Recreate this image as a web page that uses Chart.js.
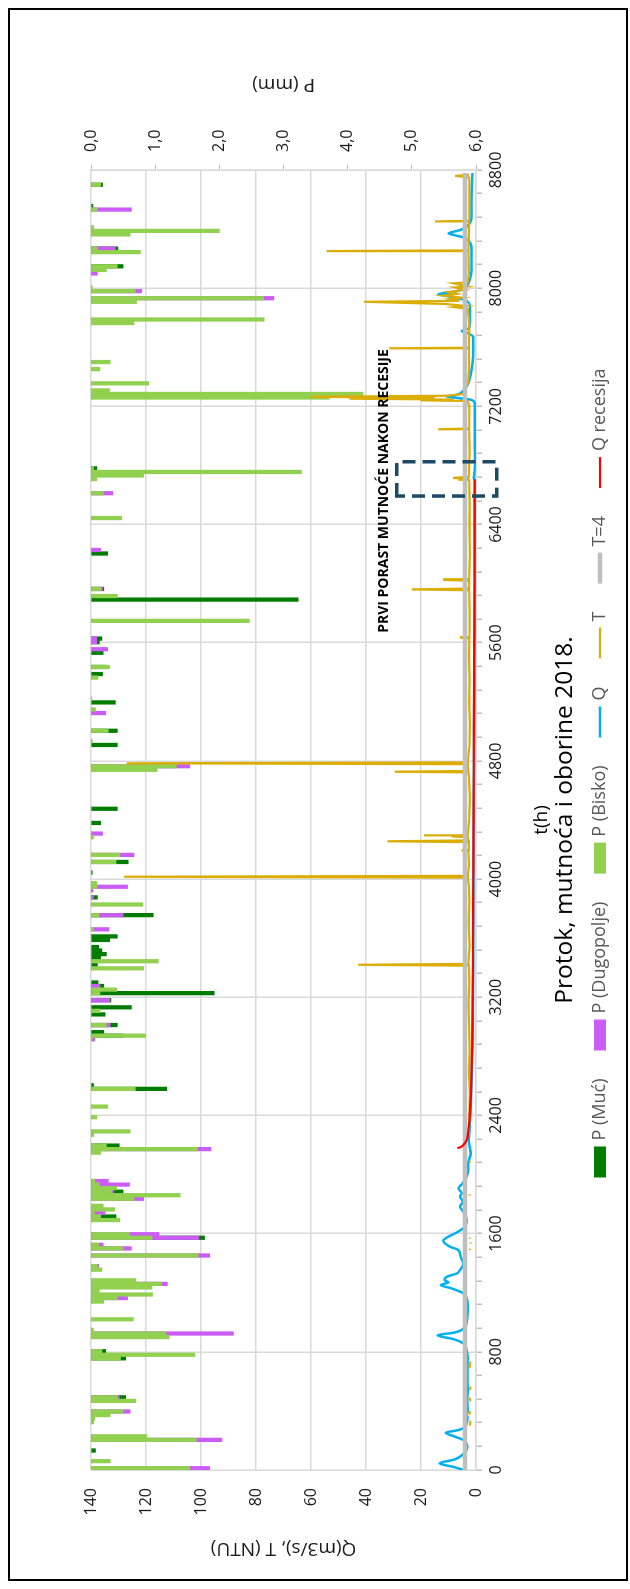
<!DOCTYPE html>
<html>
<head>
<meta charset="utf-8">
<script src="https://cdn.jsdelivr.net/npm/chart.js@4.4.1/dist/chart.umd.min.js"></script>
<style>
  html, body { margin: 0; padding: 0; background: #fff; }
  body { width: 630px; height: 1589px; overflow: hidden; position: relative; }
  #wrap { position: absolute; left: 0; top: 0; width: 1589px; height: 630px;
          transform-origin: 0 0; transform: translate(0, 1589px) rotate(-90deg); }
</style>
</head>
<body>
<div id="wrap"><canvas id="myChart" width="1589" height="630"></canvas></div>
<script>
// precipitation, one bar per day (hour of the day's middle)
const rainHours = [12,60,132,204,228,324,348,372,396,468,492,756,780,804,900,924,948,1020,1140,1164,1188,1212,1236,1260,1284,1356,1380,
  1452,1500,1524,1572,1596,1692,1716,1740,1764,1788,1836,1860,1884,1908,1932,1956,2148,2172,2196,2268,2292,2388,2460,2580,2604,
  2916,2940,2964,3012,3084,3108,3132,3180,3228,3252,3276,3300,3396,3420,3444,3468,3492,3516,3540,3588,3612,3660,3756,3828,3876,3924,3948,3972,4044,4116,4164,4284,4308,4380,
  4476,4740,4764,4908,4932,5004,5124,5148,5196,5220,5364,5388,5436,5532,5556,5604,5628,5748,5892,5916,
  5964,6204,6228,6444,6612,6708,6732,6756,6780,7260,7284,7308,7356,
  7452,7500,7764,7788,7908,7932,7980,8004,8100,8124,8148,8244,8268,8364,8388,8412,8532,8556,8700];
const pMuc = [0,0,0.07,0,0,0,0,0,0,0,0.54,0.54,0,0.23,0,0,0,0,0,0,0,0,0,0,0,0,0,
  0,0,0,1.77,0,0,0.39,0,0,0,0,0,0.50,0,0,0,0,0,0.44,0,0,0,0,1.18,0.04,
  0,0.50,0.20,0.41,0.22,0,0.63,0.31,1.92,0,0.20,0.11,0,0.10,0,0.15,0.24,0.17,0.12,0.29,0.41,0,0.97,0,0.10,0,0,0,0.02,0.58,0,0,0,0.15,
  0.41,0,0,0.41,0,0.41,0,0,0.38,0,0,0.18,0.23,0.19,0,0.13,0.17,0,3.23,0,
  0.20,0.26,0,0,0,0,0,0,0.09,0,0,0,0,
  0,0,0,0,0,0,0,0,0,0,0.50,0,0.42,0,0,0,0,0.03,0.18];
const pDugopolje = [1.85,0,0,2.04,0,0,0,0,0.61,0.08,0.44,0,0,0.14,0,2.22,0,0,0,0.57,0,0,0,1.19,0,0,0.12,
  1.85,0.63,0.19,1.68,1.06,0,0,0.22,0,0,0.82,0,0.35,0,0.60,0.27,0,1.87,0,0,0,0,0,0,0,
  0.06,0,0,0.30,0,0,0,0.29,0,0,0.14,0,0,0,0,0,0,0,0,0,0,0.28,0.50,0,0.04,0.03,0.57,0,0,0,0.67,0,0.18,0,
  0,0,1.54,0,0,0,0.23,0,0,0,0,0,0,0,0.26,0.09,0.09,0,0,0,
  0.18,0,0.15,0,0.34,0,0,0,0,0,0,0,0,
  0,0,0,0,0,2.85,0.79,0,0.10,0,0,0,0.38,0,0,0,0.63,0,0];
const pBisko = [1.54,0.30,0,1.64,0.87,0.04,0.06,0.30,0.50,0.70,0.41,0.46,1.62,0.17,1.22,1.17,0.04,0.66,0.20,0.41,0.96,0.13,0.95,1.10,0.70,0.17,0.10,
  1.67,0.50,0.12,0.95,0.60,0.45,0.15,0.05,0.37,0.19,0.67,1.39,0.32,0.40,0.13,0.06,0.15,1.66,0.24,0.04,0.61,0.09,0.26,0.69,0,
  0.02,0.85,0,0.24,0,0.14,0,0,0.14,0.40,0,0,0.82,0,1.05,0,0,0,0,0,0,0.04,0.12,0.81,0,0,0.09,0.09,0,0.39,0.45,0.04,0,0,
  0,1.03,1.33,0,0.02,0.27,0,0.07,0,0.01,0.11,0,0.29,0,0,0,0,2.47,0,0.41,
  0.15,0,0,0.48,0.19,0.09,0.82,3.28,0.04,3.71,4.24,0.29,0.90,
  0.14,0.30,0.67,2.70,0.71,2.69,0.69,0.02,0,0.24,0.41,0.77,0.10,0.61,2.0,0.04,0.10,0,0.15];

// flow Q (m3/s)
const qHours = [0,20,45,70,90,135,158,203,228,253,268,282,316,360,377,400,470,550,650,760,820,857,885,912,930,948,993,1083,1150,1196,1230,1252,1270,1286,1309,1330,1354,1399,1444,1489,1512,1553,1580,1614,1648,1693,1749,1783,1817,1851,1873,1907,1941,1986,2032,2076,2144,2178,2230,2300,2420,2640,2980,3500,4000,4500,5000,5500,6000,6400,6700,6713,6770,6860,7000,7220,7243,7255,7266,7278,7288,7334,7379,7446,7550,7670,7695,7710,7726,7760,7873,7920,7945,7960,7975,8000,8032,8145,8257,8340,8360,8371,8393,8416,8484,8596,8780];
const qValues = [4.6,8,13.3,8,5.8,3.4,3.2,4.6,8,11,7,4.6,3.4,3.1,3.6,3,3.2,3,3.1,3,3.5,4.6,8,14,8,5.2,3.4,3,3.2,4.6,9,12.8,10,11.5,10.5,7,5.8,4.6,5.6,6.4,9.5,11.9,10,6.4,4,3.4,4.6,5.8,4.8,5.8,5.2,6.4,4.8,3.4,2.8,2.8,1.9,2.2,2.6,2.4,2.0,1.6,1.2,1.0,0.9,0.85,0.7,0.6,0.5,0.45,0.45,0.8,0.5,0.4,0.5,0.5,1.5,6,10.7,7,5.8,3.4,2.4,1.6,1,1,3,5.2,2.8,2.2,2.2,4,10,13.7,8,4,2.8,1.6,1.6,4,8,10,5.8,3.4,1.6,1.6,1.3];

// turbidity T (NTU), null = no data
const tHours = [300,335,336,375,400,401,465,490,491,540,565,566,690,735,736,1488,1498,1499,1533,1542,1543,1565,1573,1574,1857,1866,1867,2083,2092,2093,
  2290,2400,2550,2700,2850,3000,3150,3300,3414,3420,3426,3550,3700,3850,3950,4010,4016,4022,4100,4188,4192,4196,4250,4256,4262,4284,4289,4292,4294,4298,
  4400,4550,4700,4722,4727,4732,4778,4784,4790,4900,5050,5200,5350,5500,5630,5634,5638,5800,5955,5961,5967,6020,6025,6030,6200,6400,6550,6700,6704,6708,6716,6722,
  6900,7040,7045,7050,7200,7236,7241,7246,7252,7258,7265,7272,7285,7350,7450,7589,7593,7597,7750,7860,7872,7880,7893,7908,7914,7926,7936,7950,7962,7974,7990,8006,8012,8033,8040,
  8100,8246,8251,8256,8350,8448,8452,8456,8600,8750,8760,8768];
const tValues = [2.2,2.0,null,2.4,2.2,null,2.0,2.3,null,2.2,2.0,null,2.3,2.1,null,2.2,2.2,null,2.0,2.0,null,2.2,2.2,null,2.3,2.3,null,2.2,2.2,null,
  2.6,2.4,2.2,2.6,2.3,2.5,2.8,2.4,2.6,42.8,2.8,2.3,2.7,2.4,2.6,3.0,128,3.0,2.5,2.8,5.2,2.6,2.7,32.2,2.7,3.0,8.8,3.0,18.9,3.0,
  2.5,2.2,2.6,2.8,29.5,2.8,3.0,127,3.0,2.4,2.2,2.5,2.3,2.6,2.4,5.8,2.4,2.3,2.5,23.4,2.6,2.5,11.9,2.5,2.2,2.4,2.3,2.5,6.4,2.6,8.3,2.6,
  2.3,2.5,13.7,2.5,2.4,3.0,20,8,46,15,60,10,4.5,3.0,2.5,2.6,31.5,2.6,2.4,3.0,8,4,11,40.7,6,9.5,5,12,7,10,4,7.6,3.0,8.2,3.0,
  2.6,2.8,54.3,2.8,2.6,2.5,14.9,2.5,2.4,2.5,7.6,2.5];

// turbidity limit
const limitHours = [0, 8780];
const limitValues = [4, 4];

// flow recession
const recHours = [2178,2188,2200,2234,2302,2415,2641,2978,3500,4000,4500,5000,5500,6000,6400,6706];
const recValues = [6.8,5.4,4.6,3.4,2.8,2.2,1.7,1.3,1.1,1.0,0.9,0.75,0.65,0.55,0.5,0.45];

// annotation box (t from..to, Q from..to) and its caption
const boxHours = [6593, 6825];
const boxQ = [-7.5, 28.8];
const noteText = 'PRVI PORAST MUTNOĆE NAKON RECESIJE';
const notePos = [6627, 33.5];

const chartTitle = 'Protok, mutnoća i oborine 2018.';

function pts(xs, ys){
    return xs.map((x, i) => ({x: x, y: ys[i]}))
}

const txt = '#1a1a1a';
Chart.defaults.font.family = '"Open Sans", sans-serif';

const frame = {
    id: 'frame',
    beforeDraw(chart){
        const c = chart.ctx;
        c.save();
        c.fillStyle = '#fff';
        c.fillRect(0, 0, chart.width, chart.height);
        c.restore();
    },
    afterDatasetsDraw(chart){
        const c = chart.ctx, x = chart.scales.x, y = chart.scales.y;
        const x0 = x.getPixelForValue(boxHours[0]), x1 = x.getPixelForValue(boxHours[1]);
        const y0 = y.getPixelForValue(boxQ[1]), y1 = y.getPixelForValue(boxQ[0]);
        c.save();
        c.setLineDash([13, 7]);
        c.lineWidth = 3.5;
        c.strokeStyle = '#1d4a66';
        c.strokeRect(x0, y0, x1 - x0, y1 - y0);
        c.setLineDash([]);
        c.fillStyle = '#000';
        c.font = 'bold 14px "Open Sans"';
        c.textAlign = 'center';
        c.textBaseline = 'middle';
        c.fillText(noteText, x.getPixelForValue(notePos[0]), y.getPixelForValue(notePos[1]));
        c.restore();
    },
    afterDraw(chart){
        const c = chart.ctx, a = chart.chartArea;
        const mid = (a.left + a.right) / 2;
        c.save();
        // chart title, centred on the plot area
        c.font = '24.5px "Open Sans"';
        c.fillStyle = '#000';
        c.textAlign = 'center';
        c.textBaseline = 'middle';
        c.fillText(chartTitle, mid, 565);
        // secondary axis title, written bottom-to-top
        c.translate(1505, (a.top + a.bottom) / 2);
        c.rotate(-Math.PI / 2);
        c.font = '19px "Open Sans"';
        c.fillStyle = txt;
        c.fillText('P (mm)', 0, 0);
        c.restore();

        // legend
        const sets = chart.data.datasets;
        const ly = 600, lx = 816, markW = 31, gap = 6, itemGap = 28;
        c.save();
        c.font = '18px "Open Sans"';
        c.textBaseline = 'middle';
        const widths = sets.map(ds => markW + gap + c.measureText(ds.label).width);
        const total = widths.reduce((s, w) => s + w, 0) + itemGap * (sets.length - 1);
        let px = lx - total / 2;
        sets.forEach((ds, i) => {
            if (ds.type === 'line') {
                c.strokeStyle = ds.borderColor;
                c.lineWidth = ds.borderWidth;
                c.beginPath();
                c.moveTo(px, ly);
                c.lineTo(px + markW, ly);
                c.stroke();
            } else {
                c.fillStyle = ds.backgroundColor;
                c.fillRect(px, ly - 6, markW, 12);
            }
            c.fillStyle = '#595959';
            c.fillText(ds.label, px + markW + gap, ly);
            px += widths[i] + itemGap;
        });
        // outer border
        c.strokeStyle = '#000';
        c.lineWidth = 2;
        c.strokeRect(9, 9, 1571, 618);
        c.restore();
    }
};

const ctx = document.getElementById('myChart').getContext('2d');
const myChart = new Chart(ctx, {
    type: 'bar',
    data: {
        datasets: [
            {type: 'bar', label: 'P (Muć)', data: pts(rainHours, pMuc), yAxisID: 'p', backgroundColor: '#007d00', order: 7},
            {type: 'bar', label: 'P (Dugopolje)', data: pts(rainHours, pDugopolje), yAxisID: 'p', backgroundColor: '#cc5cf7', order: 6},
            {type: 'bar', label: 'P (Bisko)', data: pts(rainHours, pBisko), yAxisID: 'p', backgroundColor: '#92d050', order: 5},
            {type: 'line', label: 'Q', data: pts(qHours, qValues), yAxisID: 'y', borderColor: '#00b0f0', borderWidth: 2.5, cubicInterpolationMode: 'monotone', order: 4},
            {type: 'line', label: 'T', data: pts(tHours, tValues), yAxisID: 'y', borderColor: '#dcad06', borderWidth: 2.2, spanGaps: false, order: 3},
            {type: 'line', label: 'T=4', data: pts(limitHours, limitValues), yAxisID: 'y', borderColor: '#bfbfbf', borderWidth: 4.5, order: 2},
            {type: 'line', label: 'Q recesija', data: pts(recHours, recValues), yAxisID: 'y', borderColor: '#ff0000', borderWidth: 2.2, cubicInterpolationMode: 'monotone', order: 1}
        ]
    },
    options: {
        responsive: false,
        animation: false,
        devicePixelRatio: 1,
        events: [],
        layout: {padding: {left: 20, right: 20, top: 91, bottom: 79}},
        datasets: {
            bar: {barThickness: 3.6, grouped: false, borderWidth: 0},
            line: {pointRadius: 0, tension: 0}
        },
        plugins: {
            legend: {display: false},
            tooltip: {enabled: false},
            title: {display: false}
        },
        scales: {
            x: {
                type: 'linear', min: 0, max: 8800, offset: false,
                grid: {
                    offset: false, lineWidth: 1.5, tickLength: 6, tickColor: '#bfbfbf',
                    color: c => (c.tick && c.tick.value % 800 === 0) ? '#d9d9d9' : 'rgba(0,0,0,0)'
                },
                border: {display: true, color: '#d9d9d9', width: 1.5},
                ticks: {
                    stepSize: 160, autoSkip: false, maxRotation: 0, padding: 5, color: txt, font: {size: 16},
                    callback: v => v % 800 === 0 ? String(v) : ''
                },
                title: {display: true, text: 't(h)', color: '#000', font: {size: 19, lineHeight: 1}, padding: 0},
                afterFit: s => { s.height = 75; }
            },
            y: {
                position: 'left', min: 0, max: 140,
                grid: {color: '#d9d9d9', lineWidth: 1.5, drawTicks: false},
                border: {display: false},
                ticks: {stepSize: 20, padding: 18, color: txt, font: {size: 16}},
                title: {display: true, text: 'Q(m3/s), T (NTU)', color: txt, font: {size: 19, lineHeight: 1.2}, padding: {top: 9, bottom: 0}},
                afterFit: s => { s.width = 99; }
            },
            p: {
                position: 'right', min: 0, max: 6, reverse: true,
                grid: {drawOnChartArea: false, drawTicks: true, tickLength: 5, tickColor: '#bfbfbf'},
                border: {display: true, color: '#d9d9d9', width: 1.5},
                ticks: {stepSize: 1, padding: 13, color: txt, font: {size: 16}, callback: v => v.toFixed(1).replace('.', ',')},
                afterFit: s => { s.width = 150; }
            }
        }
    },
    plugins: [frame]
});
</script>
</body>
</html>
